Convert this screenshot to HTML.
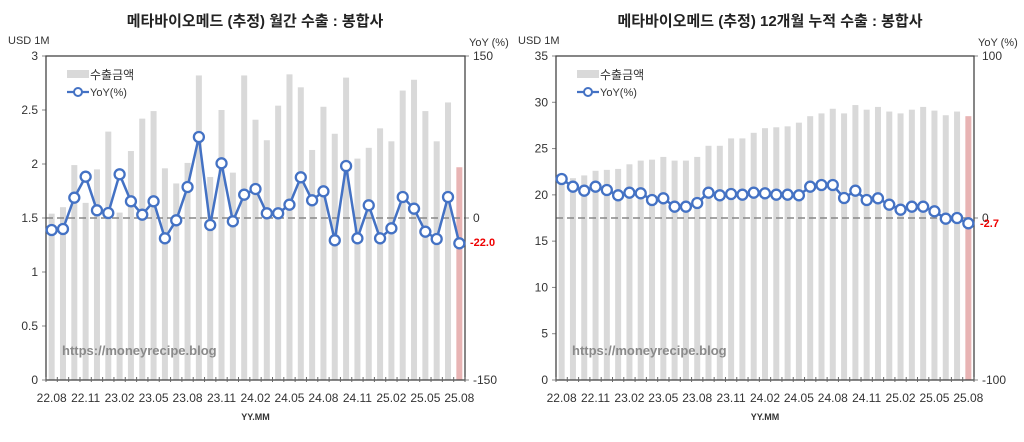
<!DOCTYPE html>
<html><head><meta charset="utf-8"><style>
html,body{margin:0;padding:0;background:#fff;}
svg{display:block;font-family:"Liberation Sans","Noto Sans CJK KR",sans-serif;}
</style></head><body>
<svg id="s" width="1024" height="442" xmlns="http://www.w3.org/2000/svg"></svg>
<script>
const s=document.getElementById('s');let h='';
function chart(o){
 const {x0,x1,y0,y1,lmax,lstep,rmin,rmax,bars,yoyZ,title,tx,lastLbl,lastX,lastY}=o;
 const n=bars.length,w=(x1-x0)/n;
 h+=`<text x="${tx}" y="26" font-size="15" font-weight="bold" text-anchor="middle" fill="#222">${title}</text>`;
 h+=`<text x="${x0-38}" y="44" font-size="11" fill="#333">USD 1M</text>`;
 h+=`<text x="${x1+4}" y="46" font-size="11" fill="#333">YoY (%)</text>`;
 for(let v=0;v<=lmax+1e-9;v+=lstep){const y=y1-(v/lmax)*(y1-y0);
  h+=`<text x="${x0-8}" y="${y+4}" font-size="12" text-anchor="end" fill="#333">${v}</text><line x1="${x0-4}" x2="${x0}" y1="${y}" y2="${y}" stroke="#888"/>`;}
 [[rmax,y0],[0,(y0+y1)/2],[rmin,y1]].forEach(([v,y])=>{
  h+=`<text x="${x1+8}" y="${y+4}" font-size="12" fill="#333">${v}</text><line x1="${x1}" x2="${x1+4}" y1="${y}" y2="${y}" stroke="#888"/>`;});
 bars.forEach((v,i)=>{const cx=x0+w*(i+.5),y=y1-(v/lmax)*(y1-y0);
  h+=`<rect x="${cx-3}" y="${y}" width="6" height="${y1-y}" fill="${i==n-1?'#e8b4b4':'#d9d9d9'}"/>`;});
 const zy=(y0+y1)/2;
 h+=`<line x1="${x0}" x2="${x1}" y1="${zy}" y2="${zy}" stroke="#888" stroke-width="1.5" stroke-dasharray="7,4"/>`;
 h+=`<rect x="${x0}" y="${y0}" width="${x1-x0}" height="${y1-y0}" fill="none" stroke="#444" stroke-width="1.3"/>`;
 for(let i=0;i<=n;i++){const x=x0+w*i;h+=`<line x1="${x}" x2="${x}" y1="${y1-3}" y2="${y1+2}" stroke="#666"/>`;}
 const labs=['22.08','22.11','23.02','23.05','23.08','23.11','24.02','24.05','24.08','24.11','25.02','25.05','25.08'];
 labs.forEach((l,k)=>{const cx=x0+w*(k*3+.5);h+=`<text x="${cx}" y="402" font-size="12" text-anchor="middle" fill="#333">${l}</text>`;});
 h+=`<text x="${(x0+x1)/2}" y="420" font-size="9" font-weight="bold" text-anchor="middle" fill="#333">YY.MM</text>`;
 h+=`<text x="${x0+16}" y="355" font-size="13" font-weight="bold" fill="#8a8a8a">https://moneyrecipe.blog</text>`;
 h+=`<rect x="${x0+21}" y="70" width="22" height="8" fill="#d9d9d9"/><text x="${x0+44}" y="79" font-size="12" fill="#333">수출금액</text>`;
 h+=`<line x1="${x0+21}" x2="${x0+43}" y1="92" y2="92" stroke="#4472c4" stroke-width="2.2"/><circle cx="${x0+32}" cy="92" r="4" fill="#fff" stroke="#4472c4" stroke-width="2"/><text x="${x0+44}" y="96" font-size="11" fill="#333">YoY(%)</text>`;
 let pts=yoyZ.map((z,i)=>[x0+w*(i+.5),o.zy0+z/3]);
 h+=`<polyline points="${pts.map(p=>p.join(',')).join(' ')}" fill="none" stroke="#4472c4" stroke-width="2.5"/>`;
 pts.forEach(p=>h+=`<circle cx="${p[0]}" cy="${p[1]}" r="5" fill="#fff" stroke="#4472c4" stroke-width="2.3"/>`);
 h+=lastLbl;
}
chart({x0:46,x1:465,y0:56,y1:380,lmax:3,lstep:0.5,rmin:-150,rmax:150,zy0:40,tx:255,
 title:'메타바이오메드 (추정) 월간 수출 : 봉합사',
 bars:[1.54,1.60,1.99,1.64,1.95,2.30,1.55,2.12,2.42,2.49,1.96,1.82,2.01,2.82,1.88,2.50,1.92,2.82,2.41,2.22,2.54,2.83,2.71,2.13,2.53,2.28,2.80,2.05,2.15,2.33,2.21,2.68,2.78,2.49,2.21,2.57,1.97],
 yoyZ:[570,567,473,410,511,519,403,484,524,484,595,541,441,291,555,370,544,464,447,520,520,494,412,481,454,601,378,595,496,595,565,471,506,575,597,471,610],
 lastLbl:'<text x="470" y="246" font-size="11" font-weight="bold" fill="#e00">-22.0</text>'});
chart({x0:556,x1:974,y0:56,y1:380,lmax:35,lstep:5,rmin:-100,rmax:100,zy0:40,tx:770,
 title:'메타바이오메드 (추정) 12개월 누적 수출 : 봉합사',
 bars:[22,21.8,22.1,22.6,22.7,22.8,23.3,23.7,23.8,24.1,23.7,23.7,24.1,25.3,25.3,26.1,26.1,26.7,27.2,27.3,27.4,27.8,28.5,28.8,29.3,28.8,29.7,29.2,29.5,29.0,28.8,29.2,29.5,29.1,28.6,29.0,28.5],
 yoyZ:[417,440,452,440,450,466,458,460,480,475,500,500,489,458,466,462,464,458,460,464,464,466,440,435,435,474,452,480,475,494,509,500,500,514,536,534,550],
 lastLbl:'<text x="980" y="227" font-size="11" font-weight="bold" fill="#e00">-2.7</text>'});
s.innerHTML=h;
</script>
</body></html>
